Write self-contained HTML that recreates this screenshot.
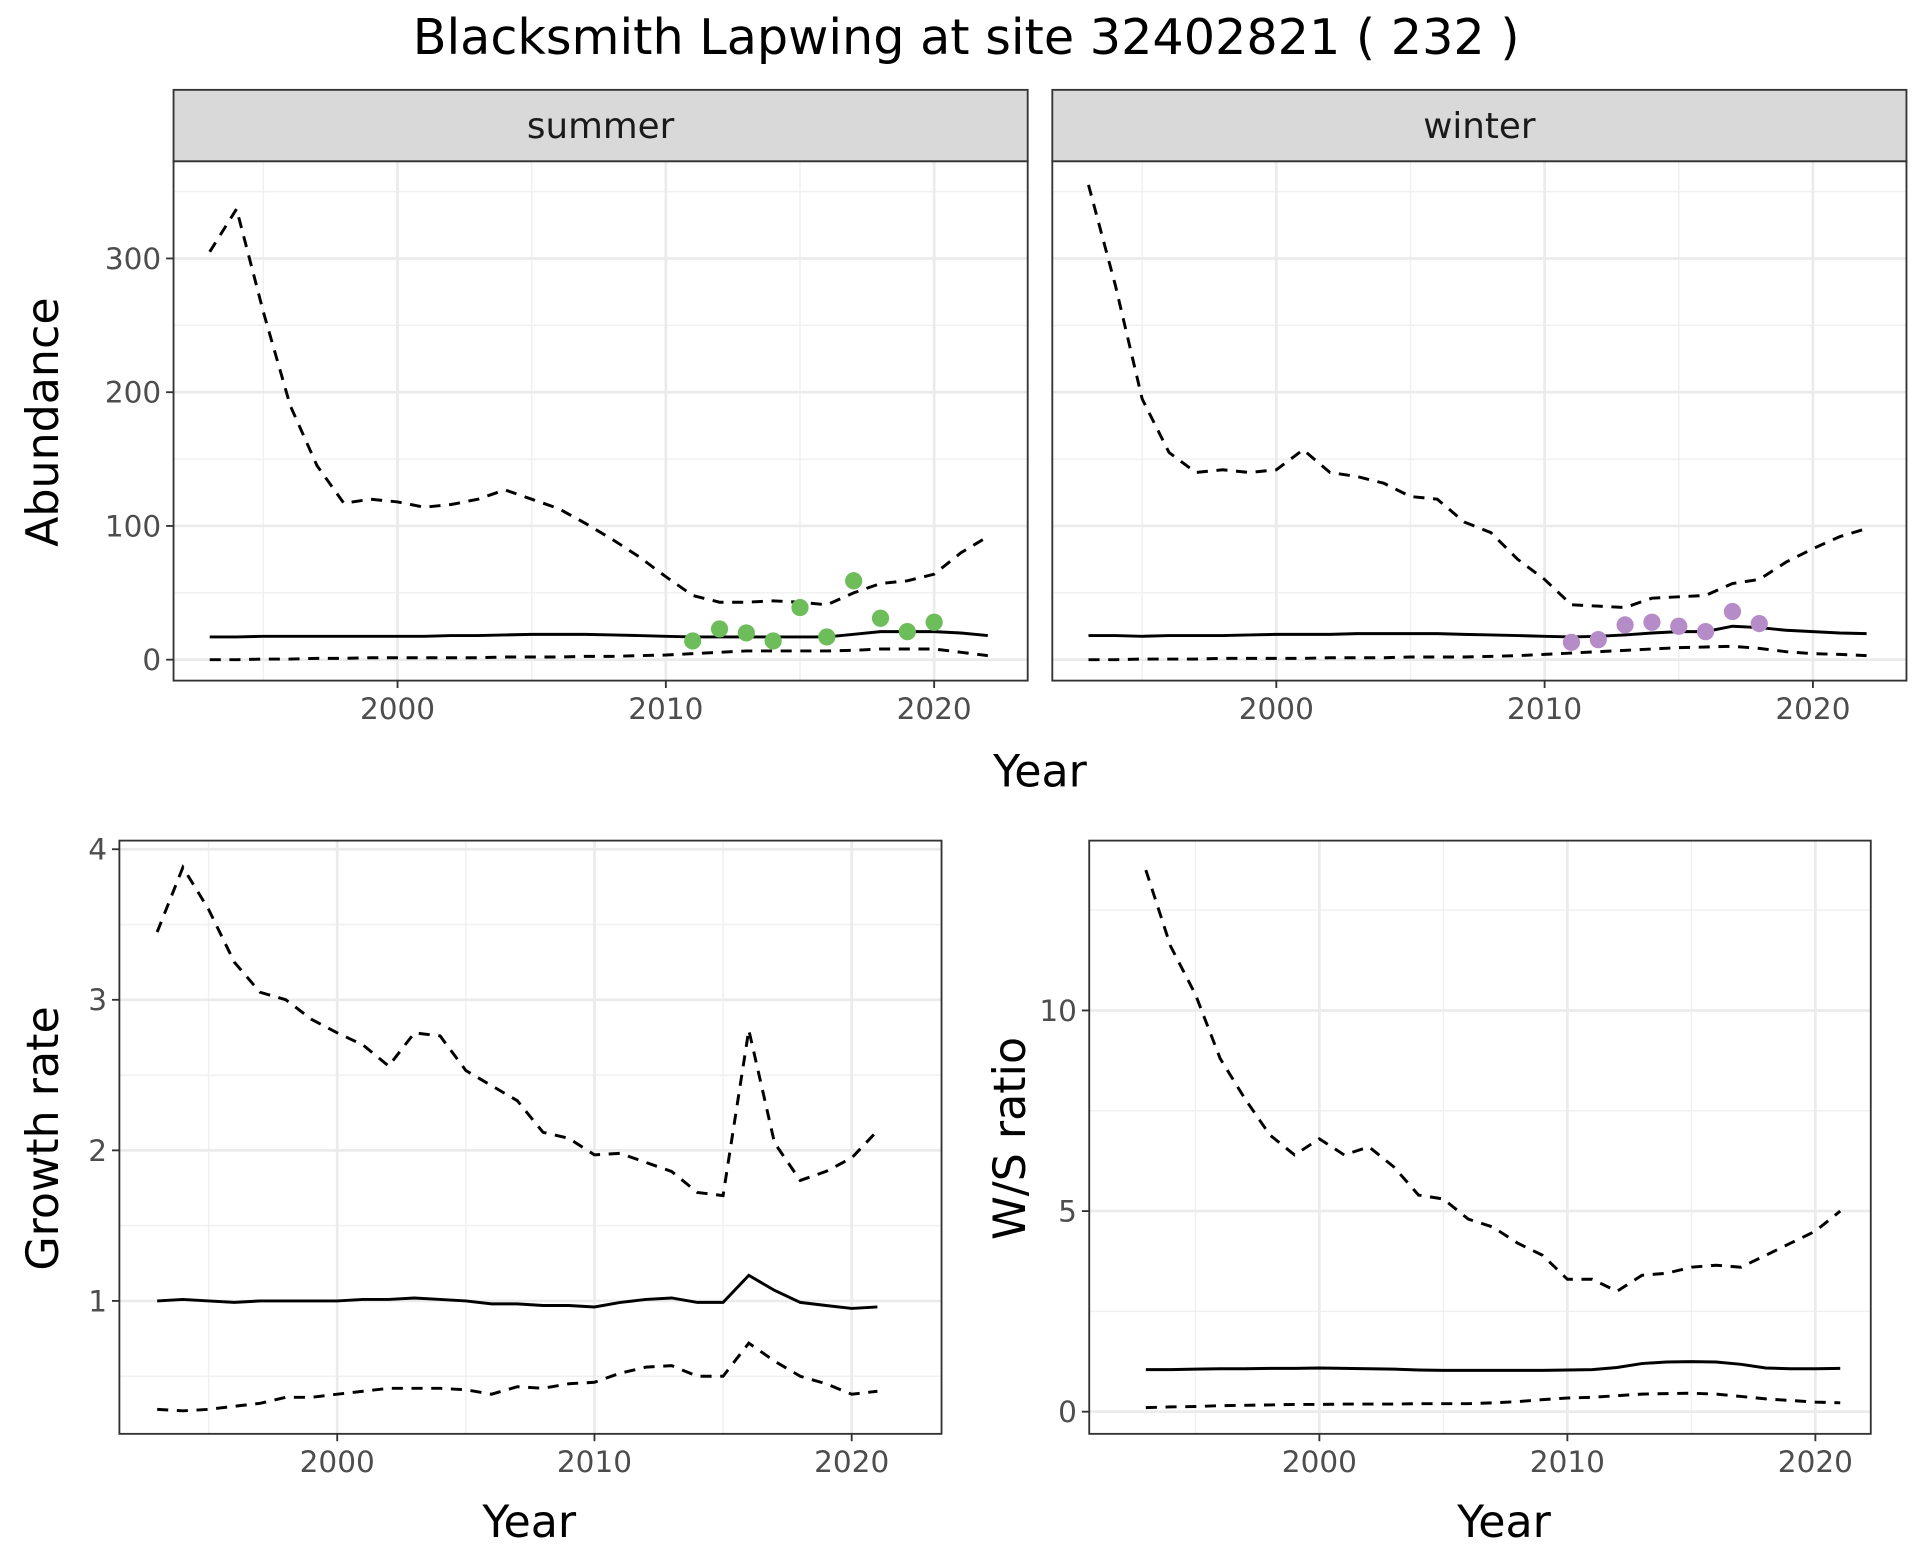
<!DOCTYPE html>
<html><head><meta charset="utf-8"><style>
html,body{margin:0;padding:0;background:#fff}
svg{display:block;font-family:"DejaVu Sans","Liberation Sans",sans-serif}
</style></head><body>
<svg id="chart" width="1920" height="1560" viewBox="0 0 1560 1267.5" xmlns="http://www.w3.org/2000/svg">
<rect width="1560" height="1267.5" fill="#fff"/>
<text x="785" y="44" font-size="40" text-anchor="middle" fill="#000">Blacksmith Lapwing at site 32402821 ( 232 )</text>
<g id="g"></g>
</svg>
<script>
const yearsTop = [1993,1994,1995,1996,1997,1998,1999,2000,2001,2002,2003,2004,2005,2006,2007,2008,2009,2010,2011,2012,2013,2014,2015,2016,2017,2018,2019,2020,2021,2022];
const summerUpper = [305,337,260,190,145,117,120,118,114,116,120,127,120,113,102,90,77,62,48,43,43,44,43,41,50,57,59,64,80,92];
const summerMean = [17,17,17.5,17.5,17.5,17.5,17.5,17.5,17.5,18,18,18.5,19,19,19,18.5,18,17.5,17,17,17,17,17,17,19,21,21,21,20,18];
const summerLower = [0,0,0.5,0.5,1,1,1.5,1.5,1.5,1.5,1.5,2,2,2,2.5,2.5,3,3.5,4.5,5.5,6.5,6.5,6.5,6.5,7,8,8,8,5.5,3];
const summerObsYears = [2011,2012,2013,2014,2015,2016,2017,2018,2019,2020];
const summerObs = [14,23,20,14,39,17,59,31,21,28];
const winterUpper = [355,280,195,155,140,142,140,142,157,140,137,132,122,120,103,95,75,60,41,40,39,46,47,48,57,60,73,83,92,98];
const winterMean = [18,18,17.5,18,18,18,18.5,19,19,19,19.5,19.5,19.5,19.5,19,18.5,18,17.5,17,17.5,18.5,20,21,21,25,24,22,21,20,19.5];
const winterLower = [0,0,0.5,0.5,0.5,1,1,1,1,1.5,1.5,1.5,2,2,2,2.5,3,4,5,6,7,8,9,9.5,10,8.5,6,4.5,4,3];
const winterObsYears = [2011,2012,2013,2014,2015,2016,2017,2018];
const winterObs = [13,15,26,28,25,21,36,27];
const yearsBottom = [1993,1994,1995,1996,1997,1998,1999,2000,2001,2002,2003,2004,2005,2006,2007,2008,2009,2010,2011,2012,2013,2014,2015,2016,2017,2018,2019,2020,2021];
const growthUpper = [3.45,3.88,3.6,3.25,3.05,3.0,2.87,2.78,2.7,2.56,2.78,2.76,2.53,2.43,2.33,2.12,2.08,1.97,1.98,1.92,1.86,1.72,1.7,2.8,2.05,1.8,1.86,1.95,2.13];
const growthMean = [1.0,1.01,1.0,0.99,1.0,1.0,1.0,1.0,1.01,1.01,1.02,1.01,1.0,0.98,0.98,0.97,0.97,0.96,0.99,1.01,1.02,0.99,0.99,1.17,1.07,0.99,0.97,0.95,0.96];
const growthLower = [0.28,0.27,0.28,0.3,0.32,0.36,0.36,0.38,0.4,0.42,0.42,0.42,0.41,0.38,0.43,0.42,0.45,0.46,0.52,0.56,0.57,0.5,0.5,0.72,0.6,0.5,0.45,0.38,0.4];
const ratioUpper = [13.5,11.6,10.4,8.8,7.8,6.9,6.4,6.8,6.4,6.6,6.1,5.4,5.3,4.8,4.6,4.2,3.9,3.3,3.3,3.0,3.4,3.45,3.6,3.65,3.6,3.9,4.2,4.5,5.0];
const ratioMean = [1.05,1.05,1.06,1.07,1.07,1.08,1.08,1.09,1.08,1.07,1.06,1.04,1.03,1.03,1.03,1.03,1.03,1.04,1.05,1.1,1.2,1.24,1.25,1.24,1.18,1.09,1.07,1.07,1.08];
const ratioLower = [0.1,0.12,0.13,0.15,0.16,0.17,0.18,0.18,0.19,0.19,0.19,0.2,0.2,0.2,0.22,0.25,0.3,0.34,0.36,0.4,0.44,0.45,0.46,0.44,0.38,0.32,0.28,0.24,0.22];
const xTickLabels = [2000,2010,2020];
const abundTicks = [0,100,200,300];
const growthTicks = [1,2,3,4];
const ratioTicks = [0,5,10];

const NS="http://www.w3.org/2000/svg";
const G=document.getElementById('g');
function mk(tag,attrs,parent){const e=document.createElementNS(NS,tag);for(const k in attrs)e.setAttribute(k,attrs[k]);(parent||G).appendChild(e);return e;}
function lin(d0,d1,r0,r1){return v=>r0+(v-d0)*(r1-r0)/(d1-d0);}

function panel(o){
  const g=mk('g',{});
  
  
  const x=lin(2000,2020,o.x2000,o.x2020), y=lin(o.ya,o.yb,o.pya,o.pyb);
  mk('rect',{x:o.l,y:o.t,width:o.r-o.l,height:o.b-o.t,fill:'#fff'},g);
  for(let yr=1990;yr<=2025;yr+=10){const px=x(yr+5);if(px>o.l&&px<o.r)mk('line',{x1:px,x2:px,y1:o.t,y2:o.b,stroke:'#f0f0f0','stroke-width':1.2},g);}
  o.minorY.forEach(v=>{const py=y(v);if(py>o.t&&py<o.b)mk('line',{x1:o.l,x2:o.r,y1:py,y2:py,stroke:'#f0f0f0','stroke-width':1.2},g);});
  xTickLabels.forEach(v=>{const px=x(v);mk('line',{x1:px,x2:px,y1:o.t,y2:o.b,stroke:'#ebebeb','stroke-width':2.2},g);
    mk('line',{x1:px,x2:px,y1:o.b,y2:o.b+6,stroke:'#333','stroke-width':1.5},g);
    const t=mk('text',{x:px,y:o.b+31,'font-size':24,'text-anchor':'middle',fill:'#4d4d4d'},g);t.textContent=v;
    });
  o.ticks.forEach(v=>{const py=y(v);mk('line',{x1:o.l,x2:o.r,y1:py,y2:py,stroke:'#ebebeb','stroke-width':2.2},g);
    if(o.yLabels){mk('line',{x1:o.l-6,x2:o.l,y1:py,y2:py,stroke:'#333','stroke-width':1.5},g);
    const t=mk('text',{x:o.l-10,y:py+8.5,'font-size':24,'text-anchor':'end',fill:'#4d4d4d'},g);t.textContent=v;
    }});
  const path=(ys,vals,dash,name)=>{const d=ys.map((yr,i)=>(i?'L':'M')+x(yr).toFixed(1)+','+y(vals[i]).toFixed(1)).join('');
    const p=mk('path',{d:d,fill:'none',stroke:'#000','stroke-width':2.4,'stroke-dasharray':dash?'9,7':'none'},g);
    };
  path(o.years,o.upper,true,'upper-bound-line');
  path(o.years,o.mean,false,'mean-line');
  path(o.years,o.lower,true,'lower-bound-line');
  if(o.obs){o.obsYears.forEach((yr,i)=>{const c=mk('circle',{cx:x(yr),cy:y(o.obs[i]),r:7,fill:o.col},g);
    });}
  mk('rect',{x:o.l,y:o.t,width:o.r-o.l,height:o.b-o.t,fill:'none',stroke:'#333','stroke-width':1.5},g);
  if(o.strip){const s=mk('rect',{x:o.l,y:73,width:o.r-o.l,height:58,fill:'#d9d9d9',stroke:'#333','stroke-width':1.5},g);
    
    const t=mk('text',{x:(o.l+o.r)/2,y:112,'font-size':29,'text-anchor':'middle',fill:'#1a1a1a'},g);t.textContent=o.strip;
    }
}
panel({name:'summer-panel',l:141,r:835,t:131,b:553,x2000:323,x2020:759,ya:0,yb:300,pya:536,pyb:210,ticks:abundTicks,minorY:[50,150,250,350],yLabels:true,
  years:yearsTop,upper:summerUpper,mean:summerMean,lower:summerLower,obs:summerObs,obsYears:summerObsYears,col:'#6dbd5b',strip:'summer'});
panel({name:'winter-panel',l:855,r:1549,t:131,b:553,x2000:1037,x2020:1473,ya:0,yb:300,pya:536,pyb:210,ticks:abundTicks,minorY:[50,150,250,350],yLabels:false,
  years:yearsTop,upper:winterUpper,mean:winterMean,lower:winterLower,obs:winterObs,obsYears:winterObsYears,col:'#b58cc8',strip:'winter'});
panel({name:'growth-panel',l:97,r:765,t:683,b:1165,x2000:274,x2020:692,ya:1,yb:4,pya:1057,pyb:690,ticks:growthTicks,minorY:[0.5,1.5,2.5,3.5],yLabels:true,
  years:yearsBottom,upper:growthUpper,mean:growthMean,lower:growthLower});
panel({name:'ratio-panel',l:885,r:1520,t:683,b:1165,x2000:1072,x2020:1475,ya:0,yb:10,pya:1147,pyb:821,ticks:ratioTicks,minorY:[2.5,7.5,12.5],yLabels:true,
  years:yearsBottom,upper:ratioUpper,mean:ratioMean,lower:ratioLower});
function label(txt,x,y,rot,name){const t=mk('text',{x:x,y:y,'font-size':36,'text-anchor':'middle',fill:'#000',transform:rot?`rotate(-90 ${x} ${y})`:''});t.textContent=txt;
  }
label('Year',845,639,false,'x-axis-title-top');
label('Abundance',47,343,true,'y-axis-title-abundance');
label('Year',430,1249,false,'x-axis-title-growth');
label('Growth rate',47,925,true,'y-axis-title-growth');
label('Year',1222,1249,false,'x-axis-title-ratio');
label('W/S ratio',833,925,true,'y-axis-title-ratio');
</script>
</body></html>
